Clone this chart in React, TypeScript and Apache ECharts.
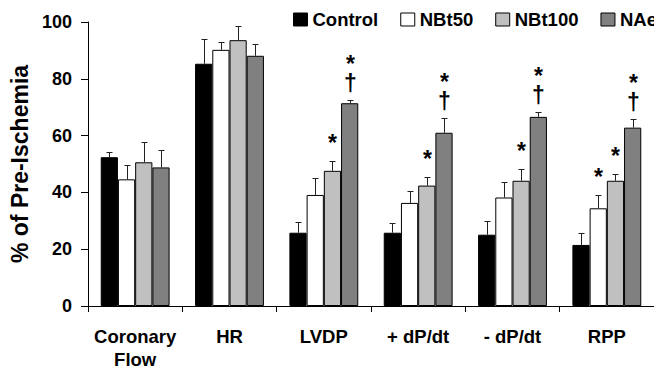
import React, { useEffect, useRef } from "react";
import * as echarts from "echarts";

const categories = ["Coronary\nFlow", "HR", "LVDP", "+ dP/dt", "- dP/dt", "RPP"];
const seriesNames = ["Control", "NBt50", "NBt100", "NAe"];

const controlValues = [52.4, 85.3, 25.8, 25.8, 25.1, 21.5];
const controlErrors = [1.9, 8.6, 3.7, 3.6, 4.8, 4.2];
const nbt50Values = [44.6, 90.2, 39.1, 36.3, 38.2, 34.4];
const nbt50Errors = [4.9, 2.9, 6.0, 4.3, 5.6, 4.7];
const nbt100Values = [50.6, 93.6, 47.6, 42.4, 44.1, 44.1];
const nbt100Errors = [7.0, 4.9, 3.6, 3.1, 4.3, 2.3];
const naeValues = [48.8, 88.1, 71.4, 61.0, 66.6, 62.8];
const naeErrors = [6.0, 4.1, 1.2, 5.3, 1.7, 3.1];

const controlSig = ["", "", "", "", "", ""];
const nbt50Sig = ["", "", "", "", "", "*"];
const nbt100Sig = ["", "", "*", "*", "*", "*"];
const naeSig = ["", "", "*\n†", "*\n†", "*\n†", "*\n†"];

const yTicks = [0, 20, 40, 60, 80, 100];

const values = [controlValues, nbt50Values, nbt100Values, naeValues];
const errors = [controlErrors, nbt50Errors, nbt100Errors, naeErrors];
const sigs = [controlSig, nbt50Sig, nbt100Sig, naeSig];
const colors = ["#000000", "#ffffff", "#c0c0c0", "#808080"];

const FONT = "'Liberation Sans', Arial, Helvetica, sans-serif";
const CAT_GAP = 0.27;

function errorSeries(k: number) {
  return {
    type: "custom",
    name: seriesNames[k] + "-err",
    silent: true,
    z: 5,
    data: values[k].map((v, i) => [i, v, errors[k][i]]),
    renderItem: (params: any, api: any) => {
      const i = api.value(0);
      const v = api.value(1);
      const e = api.value(2);
      const base = api.coord([i, v]);
      const band = api.size([1, 0])[0];
      const bw = (band * (1 - CAT_GAP)) / 4;
      const x = Math.round(base[0] - 2 * bw + (k + 0.5) * bw) + 0.5;
      const top = Math.round(api.coord([i, v + e])[1]) + 0.5;
      const children: any[] = [
        {
          type: "line",
          shape: { x1: x, y1: base[1], x2: x, y2: top },
          style: { stroke: "#222", lineWidth: 1 },
        },
        {
          type: "line",
          shape: { x1: x - 3, y1: top, x2: x + 3, y2: top },
          style: { stroke: "#222", lineWidth: 1 },
        },
      ];
      const s = sigs[k][params.dataIndex] || "";
      if (s) {
        const lines = s.split("\n").length;
        children.push({
          type: "text",
          style: {
            text: s,
            x,
            y: top - 8,
            align: "center",
            verticalAlign: "bottom",
            font: `bold 23px ${FONT}`,
            lineHeight: lines > 1 ? 19 : 22,
            fill: "#000",
          },
        });
      }
      return { type: "group", children };
    },
  };
}

export default function App() {
  const ref = useRef<HTMLDivElement>(null);
  useEffect(() => {
    if (!ref.current) return;
    const chart = echarts.init(ref.current, null, { renderer: "svg" });
    const bars = seriesNames.map((name, k) => ({
      type: "bar",
      name,
      data: values[k],
      barGap: "0%",
      barCategoryGap: CAT_GAP * 100 + "%",
      itemStyle: { color: colors[k], borderColor: "#000", borderWidth: 1 },
      z: 2,
    }));
    chart.setOption({
      animation: false,
      textStyle: { fontFamily: FONT },
      legend: {
        data: seriesNames,
        left: 293,
        top: 10,
        width: 500,
        padding: 0,
        itemGap: 22,
        itemWidth: 14,
        itemHeight: 13,
        icon: "rect",
        itemStyle: { borderColor: "#000", borderWidth: 1 },
        textStyle: { fontSize: 18.5, fontWeight: "bold", color: "#000", fontFamily: FONT },
      },
      grid: { left: 88, right: -8, top: 22, bottom: 63 },
      xAxis: {
        type: "category",
        data: categories,
        axisLine: { lineStyle: { color: "#000", width: 1 } },
        axisTick: { show: true, length: 6, lineStyle: { color: "#000" } },
        axisLabel: {
          interval: 0,
          margin: 19,
          fontSize: 18.5,
          fontWeight: "bold",
          color: "#000",
          lineHeight: 23,
          fontFamily: FONT,
        },
      },
      yAxis: {
        type: "value",
        min: yTicks[0],
        max: yTicks[yTicks.length - 1],
        interval: 20,
        name: "% of Pre-Ischemia",
        nameLocation: "middle",
        nameGap: 53,
        nameTextStyle: { fontSize: 23, fontWeight: "bold", color: "#000", fontFamily: FONT },
        axisLine: { show: true, lineStyle: { color: "#000", width: 1 } },
        axisTick: { show: true, length: 7, lineStyle: { color: "#000" } },
        splitLine: { show: false },
        axisLabel: { margin: 16, fontSize: 18, fontWeight: "bold", color: "#000", fontFamily: FONT },
      },
      series: [...bars, ...seriesNames.map((_, k) => errorSeries(k))],
    });
    return () => chart.dispose();
  }, []);
  return (
    <div
      ref={ref}
      style={{ position: "fixed", left: 0, top: 0, width: 654, height: 371, background: "#fff" }}
    />
  );
}
